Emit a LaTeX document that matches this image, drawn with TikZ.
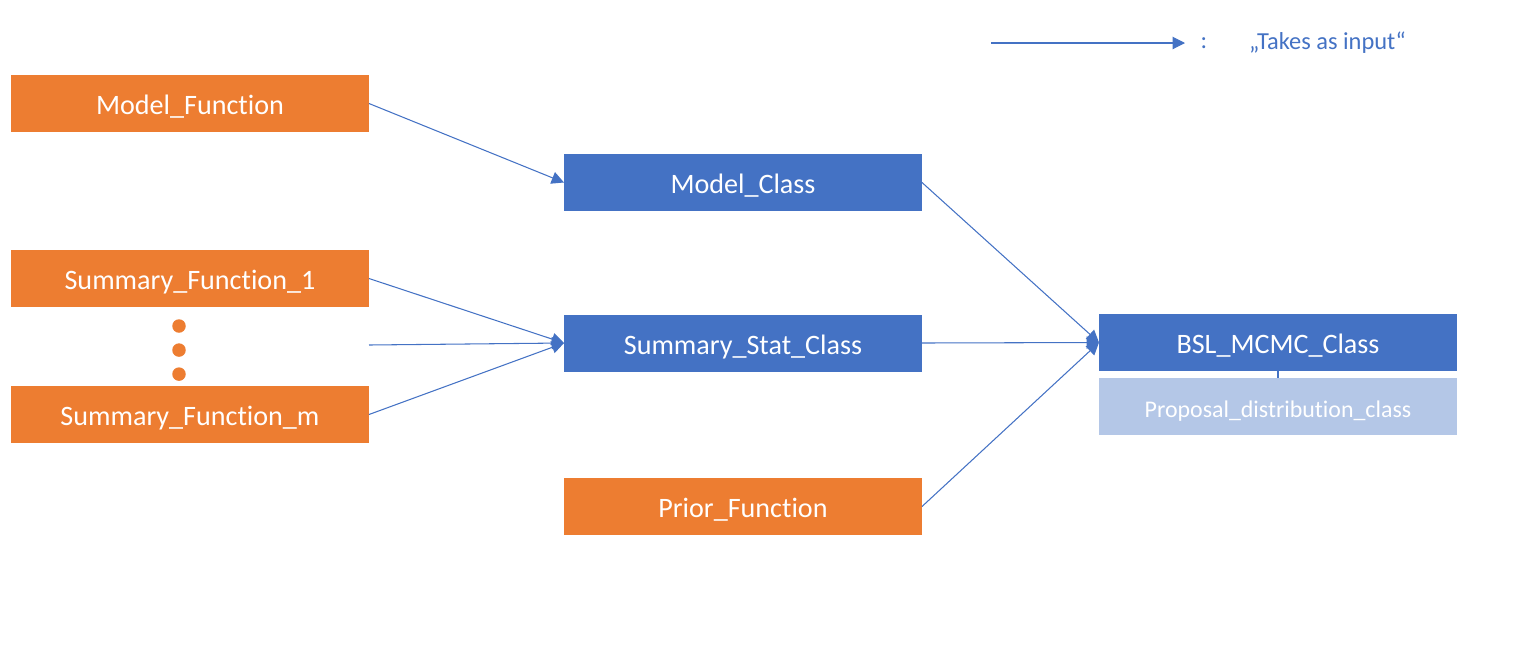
\documentclass[tikz,border=0pt]{standalone}
\usepackage{fontspec}
\setmainfont{Carlito}[Ligatures=NoCommon]
\usepackage{xcolor}
\usetikzlibrary{arrows.meta,positioning}

\definecolor{boxorange}{HTML}{ED7D31}
\definecolor{boxblue}{HTML}{4472C4}
\definecolor{boxlight}{HTML}{B4C7E7}

\begin{document}
\begin{tikzpicture}[-{Triangle[width=7pt,length=7pt]}, boxblue, line width=0.6pt,
    basebox/.style={minimum width=7.16cm, minimum height=1.14cm, inner sep=0pt, outer sep=0pt,
      text height=0.5cm, text depth=0.06cm, text=white, font=\fontsize{16}{19}\selectfont},
    orangebox/.style={basebox, fill=boxorange},
    bluebox/.style={basebox, fill=boxblue},
    lightbox/.style={basebox, fill=boxlight, font=\fontsize{13.6}{16}\selectfont},
    dot/.style={circle, fill=boxorange, inner sep=0pt, minimum size=0.27cm}]
  \useasboundingbox (0,0) rectangle (30.7,-13.18);

  \node[orangebox] (mf)  at (3.8,-2.07)   {Model\_Function};
  \node[orangebox] (sf1) at (3.8,-5.57)   {Summary\_Function\_1};
  \node[orangebox] (sfm) at (3.8,-8.29)   {Summary\_Function\_m};
  \node[dot] (d1) at (3.58,-6.52) {};
  \node[dot] (d2) [below=0.19cm of d1] {};
  \node[dot] (d3) [below=0.19cm of d2] {};
  \coordinate (sfx) at (7.38,-6.9); % the dotted summary functions

  \node[bluebox]   (mc)  at (14.86,-3.65)  {Model\_Class};
  \node[bluebox]   (ssc) at (14.86,-6.86)  {Summary\_Stat\_Class};
  \node[orangebox] (pf)  at (14.86,-10.13) {Prior\_Function};

  \node[bluebox]   (bsl) at (25.56,-6.85)  {BSL\_MCMC\_Class};
  \node[lightbox]  (prop) [below=0.14cm of bsl] {Proposal\_distribution\_class};
  \draw[-] (bsl.south) -- (prop.north);

  % legend
  \coordinate (la) at (19.82,-0.86);
  \node (colon) at (24.08,-0.86) {\fontsize{13.9}{16}\selectfont :};
  \node (ltext) at (26.55,-0.86) {\fontsize{13.9}{16}\selectfont „Takes as input“};
  \draw (la) -- ++(3.88,0);

  \path (mf.east)  edge (mc.west)
        (sf1.east) edge (ssc.west)
        (sfx)      edge (ssc.west)
        (sfm.east) edge (ssc.west)
        (mc.east)  edge (bsl.west)
        (ssc.east) edge (bsl.west)
        (pf.east)  edge (bsl.west);
\end{tikzpicture}
\end{document}
